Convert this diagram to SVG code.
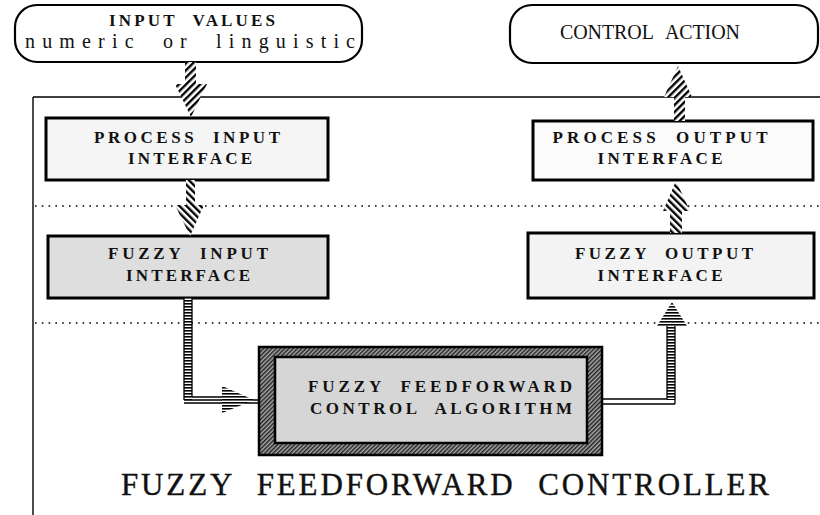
<svg xmlns="http://www.w3.org/2000/svg" width="820" height="515" viewBox="0 0 820 515">
<style>
.bt{font-family:"Liberation Serif","DejaVu Serif",serif;font-weight:bold;font-size:17px;text-anchor:middle;fill:#111}
.nt{font-family:"Liberation Serif","DejaVu Serif",serif;font-size:20px;text-anchor:middle;fill:#111}
.ttl{font-family:"Liberation Serif","DejaVu Serif",serif;font-size:31px;text-anchor:middle;fill:#111;stroke:#111;stroke-width:0.4}
.box{stroke:#000;stroke-width:3}
.rbox{fill:#fff;stroke:#000;stroke-width:2.2}
.dot{stroke:#000;stroke-width:1.5;stroke-dasharray:1.6 5.2;fill:none}
.frame{stroke:#000;stroke-width:1.4;fill:none}
.dbl{stroke:#000;stroke-width:1.3;fill:none}
</style>
<defs>
<pattern id="hA" patternUnits="userSpaceOnUse" width="5" height="5" patternTransform="rotate(45)"><rect width="5" height="5" fill="#fff"/><rect width="2.4" height="5" fill="#000"/></pattern>
<pattern id="hB" patternUnits="userSpaceOnUse" width="5" height="5" patternTransform="rotate(-45)"><rect width="5" height="5" fill="#fff"/><rect width="2.4" height="5" fill="#000"/></pattern>
<pattern id="hS" patternUnits="userSpaceOnUse" width="6" height="3"><rect width="6" height="3" fill="#fff"/><rect width="6" height="1.6" fill="#000"/></pattern>
<pattern id="dense" patternUnits="userSpaceOnUse" width="3" height="3" patternTransform="rotate(45)"><rect width="3" height="3" fill="#aaa"/><rect width="1.5" height="3" fill="#222"/></pattern>
</defs>

<g id="frame">
<path class="frame" d="M33,97 H820 M33,97 V515"/>
<line class="dot" x1="35" y1="206" x2="820" y2="206"/>
<line class="dot" x1="35" y1="323" x2="820" y2="323"/>
</g>

<g id="input-values">
<rect class="rbox" x="15" y="5" width="347" height="57" rx="22"/>
<text class="bt" x="192" y="26" textLength="166" lengthAdjust="spacing" style="word-spacing:8px">INPUT VALUES</text>
<text class="nt" x="190" y="48" textLength="330" lengthAdjust="spacing" style="word-spacing:10px">numeric or linguistic</text>
</g>

<g id="control-action">
<rect class="rbox" x="510" y="5" width="308" height="58" rx="22"/>
<text class="nt" x="650" y="39" textLength="180" lengthAdjust="spacing" style="word-spacing:8px">CONTROL ACTION</text>
</g>

<g id="process-input">
<rect class="box" x="46" y="118" width="282" height="62" fill="#f5f5f5"/>
<text class="bt" x="187" y="143" textLength="186" lengthAdjust="spacing" style="word-spacing:8px">PROCESS INPUT</text>
<text class="bt" x="190" y="164" textLength="124" lengthAdjust="spacing">INTERFACE</text>
</g>

<g id="process-output">
<rect class="box" x="533" y="121" width="280" height="59" fill="#fbfbfb"/>
<text class="bt" x="660" y="143" textLength="215" lengthAdjust="spacing" style="word-spacing:8px">PROCESS OUTPUT</text>
<text class="bt" x="660" y="164" textLength="125" lengthAdjust="spacing">INTERFACE</text>
</g>

<g id="fuzzy-input">
<rect class="box" x="48" y="236" width="280" height="62" fill="#dedede"/>
<text class="bt" x="188" y="259" textLength="160" lengthAdjust="spacing" style="word-spacing:8px">FUZZY INPUT</text>
<text class="bt" x="188" y="281" textLength="124" lengthAdjust="spacing">INTERFACE</text>
</g>

<g id="fuzzy-output">
<rect class="box" x="528" y="233" width="286" height="65" fill="#f3f3f3"/>
<text class="bt" x="664" y="259" textLength="178" lengthAdjust="spacing" style="word-spacing:8px">FUZZY OUTPUT</text>
<text class="bt" x="660" y="281" textLength="125" lengthAdjust="spacing">INTERFACE</text>
</g>

<g id="algorithm">
<rect x="259" y="347" width="343" height="108" fill="url(#dense)" stroke="#000" stroke-width="2.5"/>
<rect x="275" y="357" width="312" height="86" fill="#d6d6d6" stroke="#000" stroke-width="2.5"/>
<text class="bt" x="440" y="392" textLength="264" lengthAdjust="spacing" style="word-spacing:8px">FUZZY FEEDFORWARD</text>
<text class="bt" x="441" y="414" textLength="262" lengthAdjust="spacing" style="word-spacing:8px">CONTROL ALGORITHM</text>
</g>

<g id="connectors">
<polygon points="185,62 196,62 196,84 207,84 191,117 175,84 185,84" fill="url(#hA)"/>
<polygon points="186,180 195,180 195,205 204,205 190,236 175,205 186,205" fill="url(#hB)"/>
<polygon points="670,233 682,233 682,211 690,211 676,181 663,211 670,211" fill="url(#hB)"/>
<polygon points="674,121 685,121 685,97 692,97 678,66 664,97 674,97" fill="url(#hA)"/>
<rect x="184" y="298" width="8" height="102" fill="url(#hS)"/>
<path class="dbl" d="M184,298 V400 M192,298 V397 M184,400 H259 M192,397 H222 M184,403 H259"/>
<polygon points="222,386 254,400 222,413" fill="url(#hS)"/>
<rect x="667" y="326" width="8" height="74" fill="url(#hS)"/>
<path class="dbl" d="M602,399 H667 M602,404 H675 M675,326 V404 M667,326 V399"/>
<polygon points="657,326 672,302 687,326" fill="url(#hS)"/>
</g>

<g id="title">
<text class="ttl" x="445" y="495" textLength="648" lengthAdjust="spacing" style="word-spacing:12px">FUZZY FEEDFORWARD CONTROLLER</text>
</g>
</svg>
